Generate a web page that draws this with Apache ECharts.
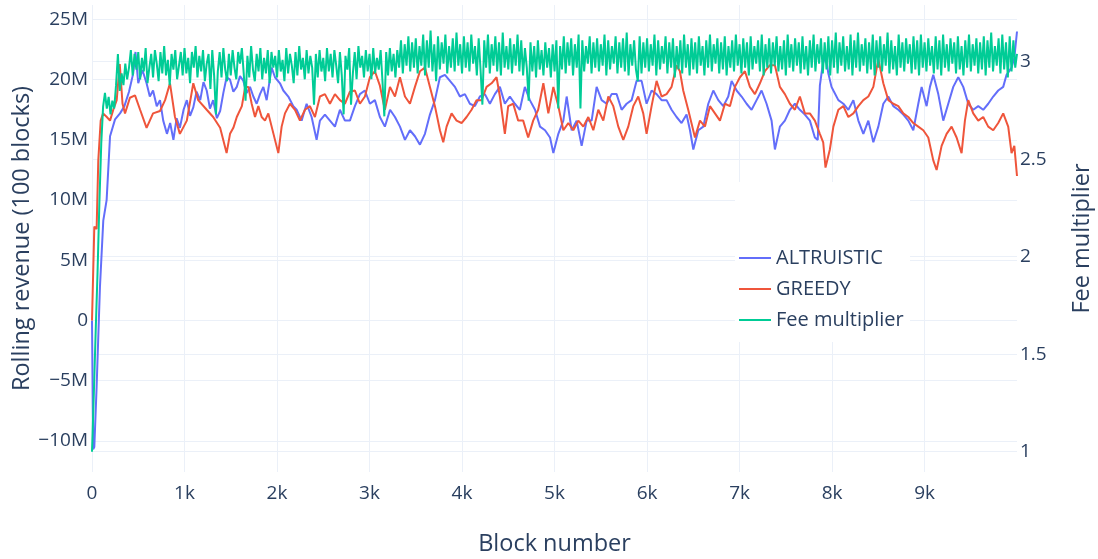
<!DOCTYPE html>
<html>
<head>
<meta charset="utf-8">
<script src="https://cdn.jsdelivr.net/npm/echarts@6/dist/echarts.min.js"></script>
<style>
  html, body { margin: 0; padding: 0; background: #ffffff; }
  #chart { width: 1098px; height: 559px; }
</style>
</head>
<body>
<div id="chart"></div>
<script>
// Rolling revenue over the last 100 blocks (millions), as [block, value]
const altruistic = [
  [0,0],[12,-10.7],[25,-10.5],[50,-5.5],[86,2.8],[122,8.3],[158,10],[195,15.3],[249,16.7],[303,17.2],[350,17.8],[400,19.0],[445,20.5],[470,22.3],[500,19.7],[545,20.8],[590,19.7],[625,18.6],[660,19.1],[700,17.8],[735,18.3],[770,16.6],[810,15.5],[845,16.4],[880,15.0],[915,16.8],[950,16.0],[990,17.5],[1025,18.3],[1060,17.0],[1095,17.7],[1130,19.0],[1170,18.3],[1205,19.8],[1240,19.1],[1275,17.6],[1310,18.3],[1350,16.8],[1385,17.4],[1420,18.9],[1455,20.2],[1492,20.0],[1528,19.0],[1565,19.4],[1600,20.3],[1636,19.9],[1672,18.9],[1708,19.4],[1744,18.6],[1780,18.0],[1816,18.8],[1852,19.4],[1888,18.3],[1942,21.0],[1978,20.2],[2032,19.7],[2068,19.1],[2122,18.6],[2176,17.8],[2212,17.5],[2266,16.6],[2320,18.0],[2374,16.9],[2428,15.0],[2464,16.6],[2518,17.1],[2572,16.6],[2626,16.1],[2680,17.5],[2734,16.6],[2788,16.6],[2842,17.8],[2896,18.8],[2950,19.1],[3004,18.0],[3058,18.3],[3112,16.9],[3166,16.1],[3222,17.5],[3275,16.9],[3329,16.1],[3383,15.0],[3437,15.8],[3491,15.3],[3545,14.6],[3599,15.5],[3653,17.1],[3707,18.3],[3761,20.2],[3815,20.4],[3869,19.9],[3923,19.4],[3977,18.6],[4031,18.8],[4085,18.0],[4139,17.8],[4193,18.6],[4247,18.8],[4301,18.0],[4355,18.8],[4409,19.4],[4463,18.0],[4517,18.6],[4571,18.0],[4625,17.5],[4679,19.4],[4733,18.3],[4789,17.5],[4843,16.1],[4897,15.8],[4951,15.2],[4987,13.9],[5041,15.5],[5095,16.6],[5131,18.6],[5185,15.8],[5239,16.6],[5293,14.5],[5347,16.6],[5401,16.6],[5455,19.4],[5509,18.3],[5563,18.0],[5617,18.8],[5671,18.8],[5725,17.5],[5779,18.0],[5833,18.3],[5887,19.9],[5941,19.9],[5995,18.0],[6049,19.1],[6103,18.8],[6157,18.3],[6211,18.3],[6265,17.5],[6319,16.9],[6373,16.4],[6427,17.1],[6464,15.8],[6500,14.2],[6554,15.8],[6608,16.1],[6662,18.0],[6716,19.1],[6770,18.3],[6824,17.8],[6878,18.6],[6914,19.9],[6968,19.1],[7022,18.6],[7076,18.0],[7130,17.5],[7184,18.3],[7238,19.1],[7292,18.0],[7346,16.6],[7382,14.2],[7436,16.1],[7490,16.6],[7544,17.5],[7598,18.0],[7652,17.5],[7706,17.1],[7760,16.6],[7814,15.2],[7845,15.0],[7868,19.5],[7900,21.3],[7930,22.0],[7960,20.5],[7994,19.4],[8014,19.1],[8068,18.3],[8122,18.0],[8176,17.5],[8230,18.3],[8284,16.6],[8338,15.5],[8392,16.6],[8446,14.8],[8500,16.1],[8554,18.0],[8608,18.6],[8662,17.8],[8716,17.5],[8770,17.1],[8824,16.6],[8878,15.8],[8932,18.0],[8968,19.4],[9022,17.8],[9058,19.4],[9094,20.4],[9148,18.8],[9202,16.6],[9256,18.0],[9310,19.4],[9364,20.2],[9418,19.4],[9472,18.0],[9526,17.5],[9580,17.8],[9634,17.5],[9688,18.0],[9742,18.6],[9796,19.1],[9850,19.4],[9886,20.4],[9940,21.0],[9970,21.8],[9999,24.0]
];

const greedy = [
  [0,0],[8,2.5],[25,7.8],[50,7.6],[68,13.3],[94,16.6],[120,17.2],[160,16.9],[195,16.6],[230,17.5],[267,18.3],[300,21.3],[330,18.0],[357,17.2],[410,18.5],[465,18.7],[520,17.5],[590,16.0],[660,17.2],[735,17.4],[790,18.3],[843,19.7],[897,16.9],[950,15.5],[1025,16.6],[1095,19.7],[1148,18.3],[1240,17.5],[1310,16.9],[1385,16.0],[1455,13.9],[1492,15.5],[1528,16.0],[1565,16.9],[1620,17.8],[1656,19.4],[1690,19.4],[1726,18.0],[1762,16.9],[1798,17.8],[1834,16.9],[1870,16.6],[1906,17.2],[1942,16.1],[1978,15.0],[2014,13.9],[2050,16.1],[2086,17.2],[2140,18.0],[2194,17.5],[2248,16.6],[2302,17.5],[2356,17.8],[2410,16.9],[2464,18.6],[2518,18.8],[2572,18.0],[2626,18.8],[2680,18.3],[2734,18.0],[2788,19.0],[2842,19.1],[2896,18.0],[2950,18.6],[3004,20.2],[3058,20.7],[3112,19.5],[3166,17.5],[3221,19.4],[3275,18.6],[3329,20.2],[3383,18.6],[3437,18.0],[3491,19.4],[3545,20.7],[3599,21.0],[3653,19.4],[3707,17.8],[3761,15.8],[3797,14.8],[3833,16.1],[3887,17.2],[3941,16.6],[3995,16.4],[4049,16.9],[4103,17.5],[4157,18.3],[4211,18.3],[4265,19.4],[4319,19.7],[4373,20.2],[4409,18.6],[4463,15.5],[4499,17.8],[4553,18.0],[4607,16.6],[4661,16.6],[4715,15.2],[4769,16.6],[4823,17.5],[4879,19.7],[4933,17.2],[4987,19.4],[5041,17.8],[5095,15.8],[5149,16.4],[5203,15.8],[5257,16.6],[5311,16.1],[5365,16.9],[5419,15.8],[5473,17.5],[5527,16.6],[5581,18.6],[5635,17.8],[5689,16.1],[5743,15.0],[5797,16.1],[5851,17.8],[5905,18.6],[5959,17.2],[5995,15.5],[6049,17.8],[6103,19.9],[6157,18.6],[6211,18.8],[6265,19.4],[6319,21.2],[6355,20.7],[6391,19.1],[6445,17.5],[6518,15.2],[6572,16.6],[6626,16.1],[6680,17.8],[6734,17.2],[6788,16.6],[6842,18.0],[6896,17.8],[6950,19.4],[7004,20.2],[7058,20.7],[7112,19.4],[7166,18.8],[7220,19.7],[7274,20.7],[7328,21.2],[7382,21.2],[7436,19.4],[7490,18.8],[7544,18.0],[7598,17.5],[7652,18.6],[7706,17.2],[7760,17.2],[7814,16.6],[7868,15.5],[7904,14.8],[7929,12.7],[7976,14.2],[8014,16.1],[8068,17.5],[8122,17.8],[8176,16.9],[8230,17.2],[8284,17.8],[8338,18.3],[8392,18.6],[8446,19.4],[8500,21.7],[8554,19.7],[8608,18.3],[8662,18.0],[8716,17.8],[8770,17.2],[8824,16.9],[8878,16.4],[8932,16.1],[8986,15.8],[9040,15.2],[9094,13.3],[9130,12.5],[9184,14.5],[9238,15.5],[9292,16.1],[9346,15.2],[9400,13.9],[9436,16.6],[9472,18.3],[9526,17.2],[9580,16.6],[9634,16.9],[9688,16.1],[9742,15.8],[9796,16.4],[9850,17.2],[9904,16.1],[9940,13.9],[9970,14.5],[9999,12.0]
];

// Fee multiplier, one value every feeStep blocks
const feeStep = 20;
const lastBlock = 9999;
const feeMultiplier = [
  1.00,1.30,1.62,1.92,2.28,2.58,2.77,2.84,2.76,2.82,2.73,2.80,2.76,2.88,3.04,2.85,2.94,2.88,2.99,2.91,2.97,3.06,2.93,3.04,2.96,
  3.05,2.91,3.02,2.95,3.07,2.89,2.97,3.04,2.92,3.06,2.99,2.90,3.05,2.94,3.08,2.93,3.01,2.88,3.04,2.96,3.06,2.91,2.98,3.05,2.93,
  3.07,2.94,3.02,2.89,3.05,2.97,3.08,2.92,3.03,2.95,3.06,2.90,2.99,3.04,2.86,3.06,2.93,2.73,2.95,3.05,2.92,3.07,2.96,2.90,3.04,
  2.93,3.06,2.97,2.91,3.05,2.99,3.07,2.94,2.80,3.03,2.92,3.08,2.96,2.90,3.04,2.95,3.07,2.91,3.02,2.94,3.06,2.89,3.05,2.97,3.03,
  2.92,3.06,2.95,3.01,2.90,3.07,2.94,3.04,2.98,2.89,3.05,2.93,3.08,2.96,3.02,2.91,3.06,2.94,3.03,2.97,2.78,3.04,2.92,3.06,2.95,
  3.02,2.90,3.07,2.95,3.04,2.92,3.06,2.98,2.89,3.05,2.93,2.73,3.03,2.96,3.07,2.78,2.94,3.05,2.91,3.08,2.97,3.03,2.92,3.06,2.95,
  3.04,2.91,3.07,2.94,3.02,2.96,3.06,2.90,2.72,3.05,2.93,3.07,2.95,3.04,2.92,3.06,2.97,3.11,2.94,3.09,2.98,3.13,2.95,3.10,2.97,
  3.12,2.94,3.08,2.98,3.14,2.93,3.11,2.97,3.16,2.95,3.09,2.90,3.13,2.96,3.10,2.99,3.14,2.94,3.08,2.97,3.12,2.95,3.15,2.98,3.09,
  2.94,3.13,2.97,3.10,2.95,3.14,2.99,3.08,2.93,3.12,2.96,2.78,3.11,2.97,3.14,2.94,3.09,2.98,3.13,2.95,3.10,2.93,3.15,2.97,3.08,
  2.96,3.12,2.94,3.09,2.98,3.14,2.95,3.11,2.93,3.07,2.97,2.80,3.10,2.95,3.08,2.92,3.11,2.96,3.06,2.93,3.10,2.97,3.07,2.92,3.09,
  2.95,3.11,2.76,3.08,2.96,3.13,2.94,3.10,2.98,3.12,2.93,3.09,2.97,3.14,2.76,3.11,2.95,3.08,2.99,3.13,2.94,3.10,2.97,3.12,2.95,
  3.09,2.98,3.14,2.93,3.11,2.96,3.08,2.99,3.13,2.94,3.10,2.97,3.12,2.95,3.15,2.93,3.09,2.98,3.11,2.96,2.90,3.13,2.94,3.10,2.97,
  3.12,2.95,3.09,2.98,3.14,2.93,3.11,2.96,3.08,2.99,3.13,2.94,3.10,2.97,3.12,2.92,3.08,2.96,3.11,2.94,3.14,2.97,3.09,2.93,3.12,
  2.96,3.10,2.94,3.13,2.98,3.08,2.93,3.11,2.97,3.14,2.95,3.09,2.99,3.12,2.94,3.10,2.96,3.13,2.93,3.08,2.97,3.11,2.95,3.14,2.98,
  3.09,2.94,3.12,2.97,3.10,2.93,3.13,2.96,3.08,2.99,3.11,2.95,3.14,2.93,3.09,2.97,3.12,2.94,3.10,2.98,3.13,2.95,3.08,2.96,3.11,
  2.93,3.14,2.97,3.09,2.95,3.12,2.98,3.10,2.94,3.13,2.96,3.08,2.93,3.11,2.97,3.14,2.95,3.09,2.99,3.12,2.94,3.10,2.96,3.13,2.93,
  3.11,2.97,3.15,2.94,3.10,2.98,3.13,2.95,3.08,2.96,3.14,2.93,3.11,2.97,3.15,2.95,3.09,2.98,3.12,2.94,3.10,2.96,3.14,2.93,3.11,
  2.97,3.13,2.95,3.09,2.98,3.15,2.94,3.11,2.96,3.08,2.93,3.14,2.97,3.10,2.95,3.12,2.99,3.09,2.94,3.13,2.96,3.11,2.93,3.14,2.97,
  3.10,2.95,3.12,2.98,3.08,2.94,3.13,2.96,3.11,2.93,3.14,2.97,3.09,2.95,3.12,2.99,3.10,2.94,3.13,2.96,3.08,2.93,3.11,2.97,3.14,
  2.95,3.09,2.98,3.12,2.94,3.10,2.96,3.13,2.93,3.11,2.97,3.15,2.95,3.08,2.98,3.12,2.94,3.14,2.96,3.10,2.92,3.13,2.95,3.11,2.97,
  3.04
];

// Axis ticks
const blockTicks = [0, 1000, 2000, 3000, 4000, 5000, 6000, 7000, 8000, 9000];
const revenueTicks = [-10, -5, 0, 5, 10, 15, 20, 25];
const feeTicks = [1, 1.5, 2, 2.5, 3];

const TEXT = '#2a3f5f';
const GRID = '#ebf0f8';
const FONT = '"Open Sans", "Noto Sans", sans-serif';

const feeData = feeMultiplier.map((v, i) => [Math.min(i * feeStep, lastBlock), v]);

function fmtRevenue(v) {
  if (v === 0) return '0';
  return (v < 0 ? '\u2212' : '') + Math.abs(v) + 'M';
}

const chart = echarts.init(document.getElementById('chart'), null, { renderer: 'canvas' });

chart.setOption({
  animation: false,
  backgroundColor: '#ffffff',
  textStyle: { fontFamily: FONT, color: TEXT },
  grid: { left: 92, right: 81, top: 5, bottom: 87, containLabel: false, outerBoundsMode: 'none' },
  graphic: [{
    type: 'rect',
    left: 735, top: 182, z: 1,
    shape: { width: 175, height: 160 },
    style: { fill: '#ffffff' },
    silent: true
  }],
  legend: {
    orient: 'vertical',
    left: 739, top: 247,
    padding: 0,
    icon: 'rect',
    itemWidth: 32, itemHeight: 2, itemGap: 9,
    textStyle: { color: TEXT, fontFamily: FONT, fontSize: 20, lineHeight: 22 },
    data: ['ALTRUISTIC', 'GREEDY', 'Fee multiplier']
  },
  xAxis: {
    type: 'value',
    min: 0, max: lastBlock,
    name: 'Block number',
    nameLocation: 'middle',
    nameGap: 60,
    nameTextStyle: { color: TEXT, fontFamily: FONT, fontSize: 23.5 },
    axisLine: { show: false },
    axisTick: { show: false, customValues: blockTicks },
    axisLabel: {
      customValues: blockTicks,
      color: TEXT, fontFamily: FONT, fontSize: 19, margin: 12,
      formatter: v => v === 0 ? '0' : (v / 1000) + 'k'
    },
    splitLine: { show: true, lineStyle: { color: GRID, width: 1 } }
  },
  yAxis: [{
    type: 'value',
    position: 'left',
    min: -12.58, max: 26.2,
    name: 'Rolling revenue (100 blocks)',
    nameLocation: 'middle',
    nameRotate: 90,
    nameGap: 58,
    nameMoveOverlap: false,
    nameTextStyle: { color: TEXT, fontFamily: FONT, fontSize: 23.5 },
    axisLine: { show: false },
    axisTick: { show: false, customValues: revenueTicks },
    axisLabel: {
      customValues: revenueTicks,
      color: TEXT, fontFamily: FONT, fontSize: 19, margin: 4,
      formatter: fmtRevenue
    },
    splitLine: { show: true, lineStyle: { color: GRID, width: 1 } }
  }, {
    type: 'value',
    position: 'right',
    min: 0.896, max: 3.291,
    name: 'Fee multiplier',
    nameLocation: 'middle',
    nameRotate: 90,
    nameGap: 53,
    nameTextStyle: { color: TEXT, fontFamily: FONT, fontSize: 23.5 },
    axisLine: { show: false },
    axisTick: { show: false, customValues: feeTicks },
    axisLabel: {
      customValues: feeTicks,
      color: TEXT, fontFamily: FONT, fontSize: 19, margin: 3,
      formatter: v => String(v)
    },
    splitLine: { show: true, lineStyle: { color: GRID, width: 1 } }
  }],
  series: [{
    name: 'ALTRUISTIC',
    type: 'line',
    yAxisIndex: 0,
    data: altruistic,
    symbol: 'none',
    color: '#636efa',
    lineStyle: { width: 2, color: '#636efa' },
    z: 3
  }, {
    name: 'GREEDY',
    type: 'line',
    yAxisIndex: 0,
    data: greedy,
    symbol: 'none',
    color: '#EF553B',
    lineStyle: { width: 2, color: '#EF553B' },
    z: 4
  }, {
    name: 'Fee multiplier',
    type: 'line',
    yAxisIndex: 1,
    data: feeData,
    symbol: 'none',
    color: '#00cc96',
    lineStyle: { width: 2, color: '#00cc96' },
    z: 5
  }]
});
</script>
</body>
</html>
